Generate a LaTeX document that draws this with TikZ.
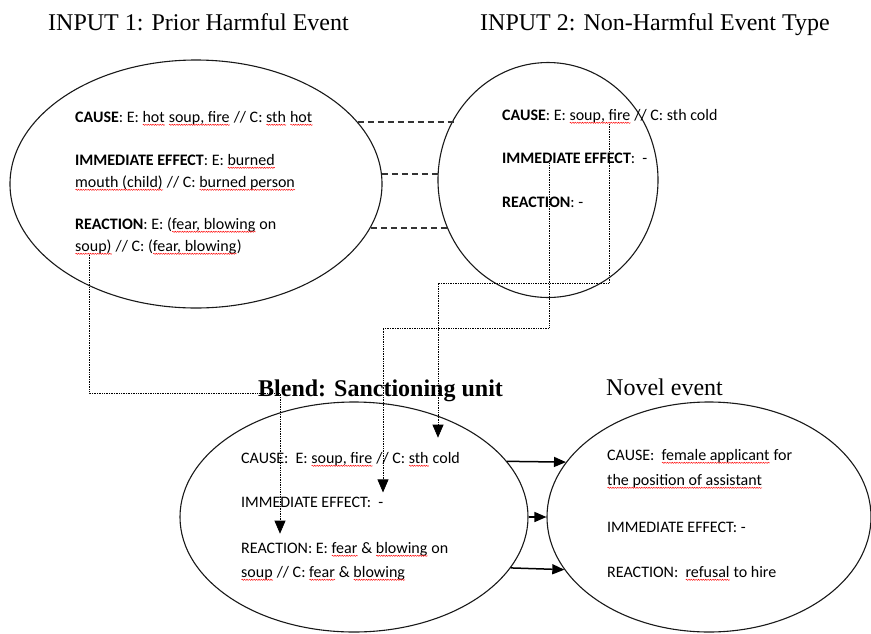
\documentclass[tikz,border=0pt]{standalone}
\usepackage{fontspec}
\setmainfont{Liberation Serif}
\newfontfamily\calib{Carlito}
\usetikzlibrary{shapes.geometric,arrows.meta,decorations.pathmorphing}
\newlength{\sqw}
\newcommand{\sq}[1]{\settowidth{\sqw}{#1}\rlap{#1}\tikz[baseline=0pt]\draw[red, line width=0.45pt, decorate, decoration={snake, amplitude=0.6pt, segment length=2.4pt}] (0pt,-2.8pt) -- (\sqw,-2.8pt);}

\begin{document}
\begin{tikzpicture}[x=1pt,y=-1pt,
    oval/.style={draw=black!90, line width=1.1pt, ellipse, inner sep=0pt},
    head/.style={anchor=base west, inner sep=0pt, font=\fontsize{24}{28}\selectfont},
    txt/.style={anchor=base west, inner sep=0pt, font=\calib\fontsize{16}{19}\selectfont},
    gap/.style={draw=black!80, line width=1.9pt, dash pattern=on 6pt off 4pt},
    link/.style={draw=black, line width=0.7pt, densely dotted, -{Triangle[length=13pt,width=11pt]}},
    flow/.style={draw=black, line width=1.5pt, -{Triangle[length=12pt,width=10pt]}}]
        \useasboundingbox (0,0) rectangle (871,633);

        \node[head] (t1) at (48,30) {INPUT 1: Prior Harmful Event};
        \node[head] (t2) at (480,30) {INPUT 2: Non-Harmful Event Type};
        \node[head, font=\fontsize{24}{28}\selectfont\bfseries] (t3) at (258,396) {Blend: Sanctioning unit};
        \node[head] (t4) at (606,395) {Novel event};

        \node[oval, minimum width=372pt, minimum height=248pt] (in1) at (196,184) {};
        \node[oval, minimum width=220pt, minimum height=235pt] (in2) at (548,180) {};
        \node[oval, minimum width=348pt, minimum height=230pt] (bl) at (354,517) {};
        \node[oval, minimum width=324pt, minimum height=230pt] (nv) at (709,517) {};

        \node[txt] (l1) at (75,122) {\textbf{CAUSE}: E: \sq{hot} \sq{soup, fire} // C: \sq{sth} \sq{hot}};
        \node[txt] (l2a) at (75,165) {\textbf{IMMEDIATE EFFECT}: E:\ \sq{burned}};
        \node[txt] (l2b) at (75,187) {\sq{mouth (child)} // C: \sq{burned person}};
        \node[txt] (l3a) at (75,229) {\textbf{REACTION}: E: (\sq{fear, blowing} on};
        \node[txt] (l3b) at (75,251) {\sq{soup)} // C: (\sq{fear, blowing})};

        \node[txt] (r1) at (502,120) {\textbf{CAUSE}: E: \sq{soup, fire} // C: sth cold};
        \node[txt] (r2) at (502,163) {\textbf{IMMEDIATE EFFECT}:\ \ -};
        \node[txt] (r3) at (502,207) {\textbf{REACTION}: -};

        \node[txt] (b1) at (241,463) {CAUSE:\ \ E: \sq{soup, fire} // C: \sq{sth} cold};
        \node[txt] (b2) at (241,507) {IMMEDIATE EFFECT:\ \ -};
        \node[txt] (b3a) at (241,553) {REACTION: E: \sq{fear} \& \sq{blowing} on};
        \node[txt] (b3b) at (241,577) {\sq{soup} // C: \sq{fear} \& \sq{blowing}};

        \node[txt] (n1a) at (607,460) {CAUSE:\ \ \sq{female applicant} for};
        \node[txt] (n1b) at (607,485) {\sq{the position of assistant}};
        \node[txt] (n2) at (607,532) {IMMEDIATE EFFECT: -};
        \node[txt] (n3) at (607,577) {REACTION:\ \ \sq{refusal} to hire};

        \draw[gap] (in1.21) -- (in1.21 -| in2.147);
        \draw[gap] (in1.3) -- (in1.3 -| in2.178);
        \draw[gap] (in1.-14) -- (in1.-14 -| in2.-155);

        \coordinate (k1) at (280,393);
        \coordinate (k2) at (438,283);
        \coordinate (k3) at (383,328);
        \draw[link, shorten >=8pt] ([xshift=14pt]l3b.south west) |- (k1) -- (k1 |- b3a.north);
        \draw[link, shorten >=14pt] ([xshift=107pt]r1.south west) |- (k2) -- (k2 |- b1.north);
        \draw[link, shorten >=4pt] ([xshift=47pt]r2.south west) |- (k3) -- (k3 |- b2.north);

        \draw[flow] (bl.20) -- (nv.159);
        \draw[flow] (bl.east) -- (nv.west);
        \draw[flow] (bl.-18) -- (nv.-160);
    \end{tikzpicture}
\end{document}
